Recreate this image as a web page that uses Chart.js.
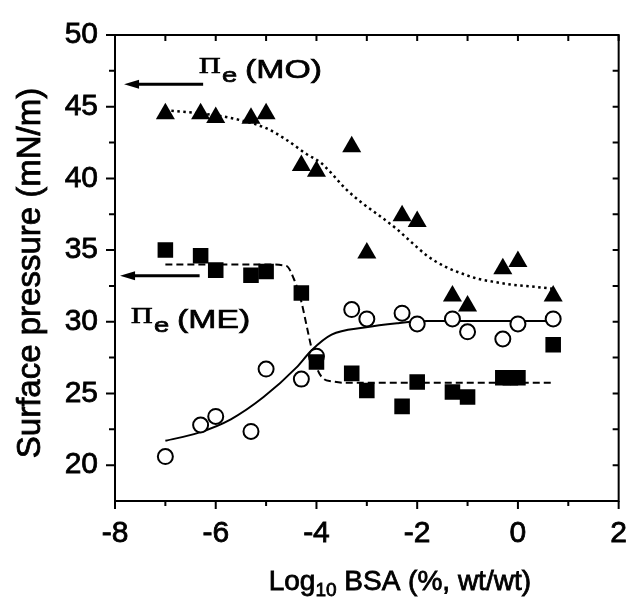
<!DOCTYPE html>
<html>
<head>
<meta charset="utf-8">
<script src="https://cdn.jsdelivr.net/npm/chart.js@4.4.0/dist/chart.umd.min.js"></script>
<style>
  html, body { margin: 0; padding: 0; background: #fff; }
</style>
</head>
<body>
<canvas id="chart" width="642" height="599"></canvas>
<script>
const moX = [-7.0, -6.3, -6.0, -5.3, -5.0, -4.3, -4.0, -3.3, -3.0, -2.3, -2.0, -1.3, -1.0, -0.3, 0.0, 0.7];
const moY = [44.5, 44.5, 44.25, 44.2, 44.5, 40.9, 40.5, 42.2, 34.8, 37.4, 37.0, 31.8, 31.1, 33.7, 34.2, 31.8];

const meX = [-7.0, -6.3, -6.0, -5.3, -5.0, -4.3, -4.0, -3.3, -3.0, -2.3, -2.0, -1.3, -1.0, -0.3, -0.15, 0.0, 0.7];
const meY = [35.0, 34.6, 33.6, 33.25, 33.5, 32.0, 27.2, 26.4, 25.2, 24.1, 25.8, 25.1, 24.75, 26.1, 26.1, 26.1, 28.4];

const bsaX = [-7.0, -6.3, -6.0, -5.3, -5.0, -4.3, -4.0, -3.3, -3.0, -2.3, -2.0, -1.3, -1.0, -0.3, 0.0, 0.7];
const bsaY = [20.6, 22.8, 23.4, 22.35, 26.7, 26.0, 27.6, 30.85, 30.2, 30.6, 29.85, 30.2, 29.3, 28.8, 29.85, 30.2];

// fitted curves
const moFitX = [-7.0, -6.0, -5.5, -5.0, -4.6, -4.2, -3.9, -3.4, -3.1, -2.75, -2.4, -2.1, -1.8, -1.45, -1.1, -0.8, -0.5, -0.15, 0.15, 0.7];
const moFitY = [44.75, 44.4, 44.05, 43.5, 42.7, 41.7, 41.05, 39.2, 38.3, 37.4, 36.45, 35.5, 34.6, 33.85, 33.35, 33.0, 32.8, 32.6, 32.5, 32.3];

const meFitX = [-7.0, -6.0, -5.0, -4.6, -4.45, -4.3, -4.2, -4.1, -3.97, -3.85, -3.7, -3.45, -3.0, -2.0, -1.0, 0.0, 0.7];
const meFitY = [34.0, 34.0, 34.0, 33.9, 33.0, 31.4, 29.8, 28.2, 26.6, 26.0, 25.85, 25.75, 25.75, 25.75, 25.75, 25.75, 25.75];

const bsaFitX = [-7.0, -6.35, -5.7, -5.05, -4.4, -4.1, -3.7, -3.05, -2.4, -1.8, -0.8, 0.7];
const bsaFitY = [21.7, 22.25, 23.2, 24.75, 26.8, 28.0, 29.1, 29.6, 29.9, 30.05, 30.05, 30.05];

// axes
const xMajor = [-8, -6, -4, -2, 0, 2];
const xMinor = [-7, -5, -3, -1, 1];
const yMajor = [20, 25, 30, 35, 40, 45, 50];
const yMinor = [22.5, 27.5, 32.5, 37.5, 42.5, 47.5];

const xTitle = ["Log", "10", " BSA (%, wt/wt)"];
const yTitle = "Surface pressure (mN/m)";

// annotation anchors in data units
const moLabel = { x: -6.33, y: 47.36, tail: "(MO)", arrowFrom: -6.25, arrowTo: -7.82, arrowY: 46.56 };
const meLabel = { x: -7.68, y: 29.92, tail: "(ME)", arrowFrom: -6.32, arrowTo: -7.9, arrowY: 33.21 };

const toPts = (xs, ys) => xs.map((x, i) => ({ x: x, y: ys[i] }));

const SANS = '"Liberation Sans", Arial, sans-serif';
const SERIF = '"Liberation Serif", "Times New Roman", serif';

// text a bit heavier, like the scanned figure
function heavyText(ctx, s, x, y) {
  ctx.fillText(s, x, y);
  ctx.strokeText(s, x, y);
}

function drawArrow(ctx, x1, x2, y) {
  ctx.beginPath();
  ctx.lineWidth = 3;
  ctx.moveTo(x1, y);
  ctx.lineTo(x2 + 10, y);
  ctx.stroke();
  ctx.beginPath();
  ctx.moveTo(x2, y);
  ctx.lineTo(x2 + 15, y - 4.5);
  ctx.lineTo(x2 + 15, y + 4.5);
  ctx.closePath();
  ctx.fill();
}

function drawPiLabel(ctx, px, py, tail) {
  ctx.save();
  ctx.translate(px, py);
  ctx.scale(1.3, 1);
  ctx.lineWidth = 0.7;
  ctx.textAlign = "left";
  ctx.textBaseline = "alphabetic";
  ctx.font = "23px " + SERIF;
  heavyText(ctx, "\u03A0", 0, 0);
  let w = ctx.measureText("\u03A0").width + 1;
  ctx.font = "21px " + SANS;
  heavyText(ctx, "e", w, 9);
  w += ctx.measureText("e").width + 6;
  ctx.font = "26px " + SANS;
  heavyText(ctx, tail, w, 5);
  ctx.restore();
}

const framePlugin = {
  id: "frame",
  afterDatasetsDraw(chart) {
    const { ctx, chartArea: a, scales } = chart;
    const xs = scales.x, ys = scales.y;
    ctx.save();
    ctx.strokeStyle = "#000";
    ctx.fillStyle = "#000";
    ctx.lineWidth = 2;
    ctx.strokeRect(a.left, a.top, a.right - a.left, a.bottom - a.top);

    ctx.beginPath();
    // left: outward ticks
    yMajor.forEach(v => { const p = ys.getPixelForValue(v); ctx.moveTo(a.left, p); ctx.lineTo(a.left - 9, p); });
    yMinor.forEach(v => { const p = ys.getPixelForValue(v); ctx.moveTo(a.left, p); ctx.lineTo(a.left - 6, p); });
    // bottom: outward ticks
    xMajor.forEach(v => { const p = xs.getPixelForValue(v); ctx.moveTo(p, a.bottom); ctx.lineTo(p, a.bottom + 8); });
    xMinor.forEach(v => { const p = xs.getPixelForValue(v); ctx.moveTo(p, a.bottom); ctx.lineTo(p, a.bottom + 5); });
    // top & right: inward mirrored ticks
    xMajor.concat(xMinor).forEach(v => { const p = xs.getPixelForValue(v); ctx.moveTo(p, a.top); ctx.lineTo(p, a.top + 6); });
    yMajor.concat(yMinor).forEach(v => { const p = ys.getPixelForValue(v); ctx.moveTo(a.right, p); ctx.lineTo(a.right - 6, p); });
    ctx.stroke();

    // annotations
    [moLabel, meLabel].forEach(l => {
      drawArrow(ctx, xs.getPixelForValue(l.arrowFrom), xs.getPixelForValue(l.arrowTo), ys.getPixelForValue(l.arrowY));
      drawPiLabel(ctx, xs.getPixelForValue(l.x), ys.getPixelForValue(l.y), l.tail);
    });

    ctx.lineWidth = 0.8;
    // y title
    ctx.save();
    ctx.translate(31, (a.top + a.bottom) / 2 + 5);
    ctx.rotate(-Math.PI / 2);
    ctx.textAlign = "center";
    ctx.textBaseline = "middle";
    ctx.font = "33px " + SANS;
    heavyText(ctx, yTitle, 0, 0);
    ctx.restore();

    // x title with subscript
    ctx.textAlign = "left";
    ctx.textBaseline = "alphabetic";
    const big = "28px " + SANS, small = "19px " + SANS;
    ctx.font = big; const w0 = ctx.measureText(xTitle[0]).width;
    ctx.font = small; const w1 = ctx.measureText(xTitle[1]).width;
    ctx.font = big; const w2 = ctx.measureText(xTitle[2]).width;
    let tx = (a.left + a.right) / 2 + 33 - (w0 + w1 + w2) / 2;
    const ty = 590;
    ctx.font = big; heavyText(ctx, xTitle[0], tx, ty); tx += w0;
    ctx.font = small; heavyText(ctx, xTitle[1], tx, ty + 6); tx += w1;
    ctx.font = big; heavyText(ctx, xTitle[2], tx, ty);
    ctx.restore();
  }
};

new Chart(document.getElementById("chart"), {
  type: "scatter",
  data: {
    datasets: [
      {
        label: "MO",
        data: toPts(moX, moY),
        pointStyle: "triangle",
        pointRadius: 11,
        backgroundColor: "#000",
        borderColor: "#000",
        borderWidth: 0,
        order: 1,
      },
      {
        label: "ME",
        data: toPts(meX, meY),
        pointStyle: "rect",
        pointRadius: 11,
        backgroundColor: "#000",
        borderColor: "#000",
        borderWidth: 0,
        order: 1,
      },
      {
        label: "BSA",
        data: toPts(bsaX, bsaY),
        pointStyle: "circle",
        pointRadius: 7.5,
        backgroundColor: "#fff",
        borderColor: "#000",
        borderWidth: 2,
        order: 2,
      },
      {
        label: "MO fit",
        data: toPts(moFitX, moFitY),
        showLine: true,
        pointRadius: 0,
        borderColor: "#000",
        borderWidth: 2.5,
        borderDash: [2.5, 3.5],
        cubicInterpolationMode: "monotone",
        order: 3,
      },
      {
        label: "ME fit",
        data: toPts(meFitX, meFitY),
        showLine: true,
        pointRadius: 0,
        borderColor: "#000",
        borderWidth: 2,
        borderDash: [7, 4],
        cubicInterpolationMode: "monotone",
        order: 3,
      },
      {
        label: "BSA fit",
        data: toPts(bsaFitX, bsaFitY),
        showLine: true,
        pointRadius: 0,
        borderColor: "#000",
        borderWidth: 2,
        cubicInterpolationMode: "monotone",
        order: 3,
      },
    ],
  },
  options: {
    responsive: false,
    animation: false,
    layout: { padding: { left: 0, top: 30, right: 10, bottom: 0 } },
    plugins: { legend: { display: false }, tooltip: { enabled: false } },
    scales: {
      x: {
        type: "linear",
        min: -8,
        max: 2,
        grid: { display: false, drawTicks: false },
        border: { display: false },
        afterFit: (s) => { s.height = 98; },
        afterBuildTicks: (s) => { s.ticks = xMajor.map(v => ({ value: v })); },
        ticks: {
          color: "#000",
          padding: 15,
          maxRotation: 0,
          textStrokeColor: "#000",
          textStrokeWidth: 0.8,
          font: { family: SANS, size: 30 },
        },
      },
      y: {
        type: "linear",
        min: 17.5,
        max: 50,
        grid: { display: false, drawTicks: false },
        border: { display: false },
        afterFit: (s) => { s.width = 115; },
        afterBuildTicks: (s) => { s.ticks = yMajor.map(v => ({ value: v })); },
        ticks: {
          color: "#000",
          padding: 17,
          textStrokeColor: "#000",
          textStrokeWidth: 0.8,
          font: { family: SANS, size: 30 },
        },
      },
    },
  },
  plugins: [framePlugin],
});
</script>
</body>
</html>
